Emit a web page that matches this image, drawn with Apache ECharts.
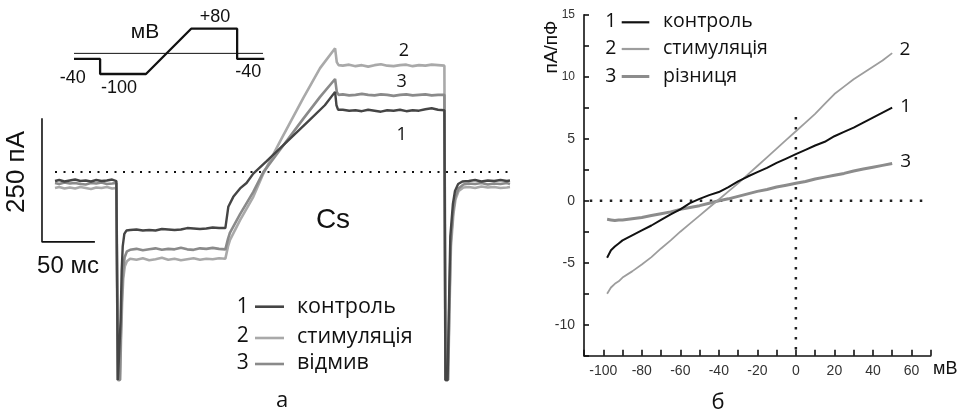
<!DOCTYPE html>
<html><head><meta charset="utf-8">
<script src="https://cdn.jsdelivr.net/npm/echarts@6/dist/echarts.min.js"></script>
<style>html,body{margin:0;padding:0;background:#fff}#c{width:963px;height:415px}</style>
</head><body><div id="c"></div>
<script>
// ===== Panel а: voltage protocol (ms, mV) =====
const protoT = [-59, 0, 0, 103.6, 205.7, 309.6, 309.6, 371];
const protoV = [-40, -40, -100, -100, 80, 80, -40, -40];
const protoRefV = -18;           // thin reference line of the inset
const protoLabels = ['-40', '-100', '+80', '-40'];

// ===== Panel а: membrane current traces (ms, pA) =====
const t1 = [-59,-55,-50,-45,-40,-35,-30,-25,-20,-15,-10,-5,-1,
  0,0.4,2,3,4,5,6.5,8.5,
  12,18,24,30,36,42,48,54,60,66,72,78,84,90,96,102,
  103.3,104.8,109.5,115.9,122,128.4,141,161,181,196,205.7,207,208.5,
  213,219,225,231,237,243,249,255,261,267,273,279,285,291,297,303,309,
  309.6,310,312,313.5,314.6,317,319,322,326,
  332,338,344,350,356,362,368,371];
const i1 = [-18,-16,-19,-17,-15,-18,-17,-19,-16,-18,-17,-15,-18,
  -18,-420,-420,-300,-200,-150,-125,-118,
  -117,-116,-118,-117,-118,-115,-116,-117,-116,-113,-114,-115,-114,-112,-113,-113,
  -110,-70,-50,-33,-22,-3,22,63,104,135,162,135,126,
  126,124,125,123,126,124,122,125,124,126,123,125,124,127,129,126,125,
  125,-420,-420,-250,-130,-65,-38,-24,-19,
  -18,-16,-19,-17,-18,-16,-18,-17];

const t2 = [-59,-55,-50,-45,-40,-35,-30,-25,-20,-15,-10,-5,-1,
  0,0.4,2.5,3.5,4.5,5.5,7,9,
  12,18,24,30,36,42,48,54,60,66,72,78,84,90,96,102,
  103.3,104.5,106.4,115.9,128.4,137.9,153.7,175.7,191.5,205.7,207.3,209,
  213,219,225,231,237,243,249,255,261,267,273,279,285,291,297,303,309,
  309.6,310,312.5,314,315.2,317.5,319.5,322.5,327,
  332,338,344,350,356,362,368,371];
const i2 = [-32,-30,-33,-31,-33,-30,-32,-34,-31,-32,-30,-33,-32,
  -32,-420,-420,-330,-260,-215,-190,-180,
  -175,-177,-174,-178,-176,-173,-177,-175,-178,-176,-174,-177,-175,-176,-174,-175,
  -172,-150,-137,-97,-50,-3,62,150,210,250,222,216,
  215,217,214,216,213,216,218,215,214,216,217,214,216,215,217,216,215,
  215,-420,-420,-260,-150,-85,-55,-38,-31,
  -30,-32,-29,-31,-30,-32,-31,-30];

const t3 = [-59,-55,-50,-45,-40,-35,-30,-25,-20,-15,-10,-5,-1,
  0,0.4,2.3,3.3,4.3,5.3,6.8,9,
  12,18,24,30,36,42,48,54,60,66,72,78,84,90,96,102,
  103.3,104.5,106.4,115.9,128.4,137.9,153.7,175.7,191.5,205.7,207.3,209,
  213,219,225,231,237,243,249,255,261,267,273,279,285,291,297,303,309,
  309.6,310,312.3,313.8,315,317.3,319.3,322.3,327,
  332,338,344,350,356,362,368,371];
const i3 = [-22,-24,-21,-23,-22,-24,-25,-22,-23,-21,-24,-23,-22,
  -22,-420,-420,-320,-245,-200,-172,-160,
  -157,-155,-158,-156,-154,-157,-155,-156,-153,-156,-157,-154,-155,-153,-155,-156,
  -153,-135,-122,-85,-40,0,45,108,152,188,162,156,
  157,155,156,158,156,155,157,156,154,156,157,155,156,157,155,156,156,
  156,-420,-420,-255,-140,-78,-50,-33,-25,
  -23,-24,-22,-25,-23,-24,-22,-24];

const traceNames = ['контроль', 'стимуляція', 'відмив'];
const scaleBarMs = 50, scaleBarPA = 250;
const scaleBarOrigin = [-71.3, -141];

// ===== Panel б: I-V curves (mV, пА/пФ) =====
const mv = [-98,-96,-94,-92,-90,-85,-80,-75,-70,-65,-60,-55,-50,-45,-40,-35,-30,-25,-20,-15,-10,-5,0,5,10,15,20,25,30,35,40,45,50];
const ctrl = [-4.6,-4.0,-3.7,-3.45,-3.2,-2.8,-2.4,-2.0,-1.55,-1.1,-0.7,-0.2,0.15,0.45,0.7,1.1,1.55,1.95,2.3,2.65,3.05,3.4,3.75,4.1,4.45,4.75,5.2,5.55,5.9,6.3,6.7,7.1,7.5];
const stim = [-7.5,-7.0,-6.7,-6.5,-6.2,-5.7,-5.15,-4.55,-3.85,-3.2,-2.5,-1.85,-1.2,-0.55,0.1,0.75,1.4,2.1,2.8,3.5,4.2,4.9,5.6,6.3,7.0,7.8,8.6,9.2,9.8,10.3,10.8,11.3,11.9];
const diff = [-1.5,-1.55,-1.6,-1.55,-1.55,-1.45,-1.35,-1.2,-1.05,-0.9,-0.7,-0.55,-0.4,-0.2,0.0,0.15,0.35,0.55,0.75,0.9,1.1,1.25,1.4,1.55,1.75,1.9,2.05,2.2,2.4,2.55,2.7,2.85,3.0];
const ivNames = ['контроль', 'стимуляція', 'різниця'];
const xTicks = [-100,-80,-60,-40,-20,0,20,40,60];
const yTicks = [-10,-5,0,5,10,15];

const zip = (a, b) => a.map((v, k) => [v, b[k]]);

const C1 = '#454545', C2 = '#a9a9a9', C3 = '#8a8a8a';
const R1 = '#111111', R2 = '#9d9d9d', R3 = '#8c8c8c';
const ARIAL = '"Liberation Sans", Arial, sans-serif';
const OPEN = '"Open Sans", "DejaVu Sans", sans-serif';

const chart = echarts.init(document.getElementById('c'), null, {renderer: 'canvas'});

function txt(text, x, y, size, fam, align, valign, extra) {
  return Object.assign({type: 'text', x: x, y: y, z: 100,
    style: {text: text, font: size + 'px ' + fam, fill: '#111', textAlign: align || 'center', textVerticalAlign: valign || 'middle'}}, extra || {});
}
function seg(x1, y1, x2, y2, color, w) {
  return {type: 'line', z: 100, shape: {x1, y1, x2, y2}, style: {stroke: color, lineWidth: w}};
}

const line = (data, xi, color, w, z, extra) => Object.assign({
  type: 'line', xAxisIndex: xi, yAxisIndex: xi, data: data, symbol: 'none',
  lineStyle: {color: color, width: w}, z: z || 2, silent: true
}, extra || {});

const option = {
  animation: false,
  backgroundColor: '#fff',
  grid: [
    {left: 40, top: 30, width: 470, height: 355},
    {left: 74, top: 26.2, width: 190.3, height: 50.3},
    {left: 584, top: 14.7, width: 346.7, height: 341}
  ],
  xAxis: [
    {gridIndex: 0, type: 'value', min: -73.18, max: 371, show: false},
    {gridIndex: 1, type: 'value', min: -59, max: 371, show: false},
    {gridIndex: 2, type: 'value', min: -110, max: 70, interval: 10,
      axisLine: {onZero: false, lineStyle: {color: '#111', width: 1.6}},
      axisTick: {inside: true, length: 6, lineStyle: {color: '#111', width: 1.6}},
      splitLine: {show: false},
      axisLabel: {margin: 8, color: '#333', fontSize: 14, fontFamily: ARIAL,
        formatter: v => xTicks.indexOf(v) >= 0 ? String(v) : ''}}
  ],
  yAxis: [
    {gridIndex: 0, type: 'value', min: -430, max: 287, show: false},
    {gridIndex: 1, type: 'value', min: -110, max: 90, show: false},
    {gridIndex: 2, type: 'value', min: -12.5, max: 15, interval: 2.5,
      axisLine: {onZero: false, lineStyle: {color: '#111', width: 1.6}},
      axisTick: {inside: true, length: 5, lineStyle: {color: '#111', width: 1.6}},
      splitLine: {show: false},
      axisLabel: {margin: 9, color: '#333', fontSize: 14, fontFamily: ARIAL,
        formatter: v => yTicks.indexOf(v) >= 0 ? (v >= 10 ? '{s|' + v + '}' : String(v)) : '',
        rich: {s: {fontSize: 12, fontFamily: ARIAL, color: '#333'}}}}
  ],
  series: [
    // panel а
    line([[-59, 0], [371, 0]], 0, '#111', 2, 1, {lineStyle: {color: '#111', width: 2, type: [2, 6.5]}}),
    line(zip(t2, i2), 0, C2, 2.6, 3),
    line(zip(t3, i3), 0, C3, 2.6, 4),
    line(zip(t1, i1), 0, C1, 2.4, 5),
    line([[scaleBarOrigin[0], scaleBarOrigin[1] + scaleBarPA], scaleBarOrigin,
          [scaleBarOrigin[0] + scaleBarMs, scaleBarOrigin[1]]], 0, '#111', 1.6, 6),
    // inset protocol
    line([[-59, protoRefV], [368, protoRefV]], 1, '#111', 1, 6),
    line(zip(protoT, protoV), 1, '#111', 2.3, 7),
    // panel б
    line([[-107, 0], [66, 0]], 2, '#222', 2.5, 1, {lineStyle: {color: '#222', width: 2.5, type: [2.5, 7.5]}}),
    line([[0, 6.75], [0, -12.5]], 2, '#222', 2.5, 1, {lineStyle: {color: '#222', width: 2.5, type: [2.5, 7.5]}}),
    line(zip(mv, diff), 2, R3, 3, 3),
    line(zip(mv, stim), 2, R2, 1.8, 4),
    line(zip(mv, ctrl), 2, R1, 2, 5)
  ],
  graphic: [
    // inset labels
    txt('мВ', 145, 32, 21, ARIAL),
    txt(protoLabels[2], 215, 17.5, 18, ARIAL),
    txt(protoLabels[0], 72.7, 78.5, 18, ARIAL),
    txt(protoLabels[1], 119, 88.5, 18, ARIAL),
    txt(protoLabels[3], 248.3, 72, 18, ARIAL),
    // scale bar labels
    txt('250 пА', 17, 172, 26, ARIAL, 'center', 'middle', {rotation: Math.PI / 2}),
    txt('50 мс', 68, 266, 24, ARIAL),
    txt('Cs', 333, 220, 28, ARIAL),
    // trace labels
    txt('2', 404, 50.7, 18, OPEN),
    txt('3', 401.7, 81.7, 18, OPEN),
    txt('1', 401.7, 135, 18, OPEN),
    // left legend
    txt('1', 242.7, 306.7, 21, OPEN), seg(255, 306.7, 284, 306.7, C1, 2.6), txt(traceNames[0], 297, 306.7, 21.5, OPEN, 'left'),
    txt('2', 242.7, 336.5, 21, OPEN), seg(255, 338, 284, 338, C2, 2.6), txt(traceNames[1], 297, 336.5, 21.5, OPEN, 'left'),
    txt('3', 242.7, 363.3, 21, OPEN), seg(255, 364, 284, 364, C3, 2.6), txt(traceNames[2], 297, 363.3, 21.5, OPEN, 'left'),
    txt('а', 282, 401, 22, OPEN),
    // right panel
    txt('пА/пФ', 552, 47, 19, ARIAL, 'center', 'middle', {rotation: Math.PI / 2}),
    txt('мВ', 933, 369, 18, ARIAL, 'left'),
    txt('1', 610.7, 21.7, 19.5, OPEN), seg(621.7, 22.3, 649.3, 22.3, R1, 2.2), txt(ivNames[0], 663, 21.7, 19.5, OPEN, 'left'),
    txt('2', 610.7, 48.3, 19.5, OPEN), seg(621.7, 49, 649.3, 49, R2, 2.2), txt(ivNames[1], 663, 48.3, 19.5, OPEN, 'left'),
    txt('3', 610.7, 76, 19.5, OPEN), seg(621.7, 76.5, 649.3, 76.5, R3, 3), txt(ivNames[2], 663, 76, 19.5, OPEN, 'left'),
    txt('2', 905, 50, 19, OPEN),
    txt('1', 905.7, 106.7, 19, OPEN),
    txt('3', 905.7, 161.7, 19, OPEN),
    txt('б', 718, 403, 22, OPEN)
  ]
};
chart.setOption(option);
</script>
</body></html>
